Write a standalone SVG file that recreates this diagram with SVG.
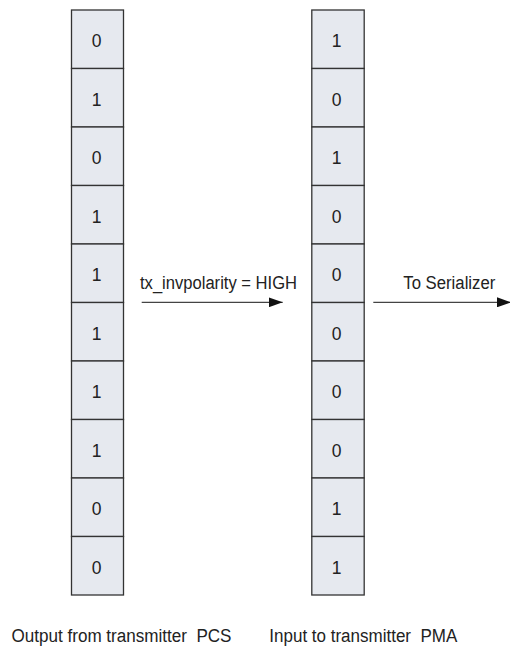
<svg xmlns="http://www.w3.org/2000/svg" width="510" height="646" viewBox="0 0 510 646">
<style>
.cell{fill:#e6e9ef;stroke:#333;stroke-width:1.3}
.t{font-family:"Liberation Sans",Arial,sans-serif;font-size:18px;fill:#222;white-space:pre}
.d{text-anchor:middle;font-size:17.5px}
.ln{stroke:#444;stroke-width:1.3;fill:none}
</style>
<defs>
<marker id="ah" markerWidth="14" markerHeight="10" refX="14" refY="5" orient="auto" markerUnits="userSpaceOnUse">
<path d="M0,0 L14,5 L0,10 Z" fill="#111"/>
</marker>
</defs>
<g id="left-column">
<rect class="cell" x="71.5" y="10" width="52" height="58.5"/>
<rect class="cell" x="71.5" y="68.5" width="52" height="58.5"/>
<rect class="cell" x="71.5" y="127" width="52" height="58.5"/>
<rect class="cell" x="71.5" y="185.5" width="52" height="58.5"/>
<rect class="cell" x="71.5" y="244" width="52" height="58.5"/>
<rect class="cell" x="71.5" y="302.5" width="52" height="58.5"/>
<rect class="cell" x="71.5" y="361" width="52" height="58.5"/>
<rect class="cell" x="71.5" y="419.5" width="52" height="58.5"/>
<rect class="cell" x="71.5" y="478" width="52" height="58.5"/>
<rect class="cell" x="71.5" y="536.5" width="52" height="58.5"/>
<text class="t d" x="96.5" y="47">0</text>
<text class="t d" x="96.5" y="105.5">1</text>
<text class="t d" x="96.5" y="164">0</text>
<text class="t d" x="96.5" y="222.5">1</text>
<text class="t d" x="96.5" y="281">1</text>
<text class="t d" x="96.5" y="339.5">1</text>
<text class="t d" x="96.5" y="398">1</text>
<text class="t d" x="96.5" y="456.5">1</text>
<text class="t d" x="96.5" y="515">0</text>
<text class="t d" x="96.5" y="573.5">0</text>
</g>
<g id="right-column">
<rect class="cell" x="311.8" y="10" width="52.4" height="58.5"/>
<rect class="cell" x="311.8" y="68.5" width="52.4" height="58.5"/>
<rect class="cell" x="311.8" y="127" width="52.4" height="58.5"/>
<rect class="cell" x="311.8" y="185.5" width="52.4" height="58.5"/>
<rect class="cell" x="311.8" y="244" width="52.4" height="58.5"/>
<rect class="cell" x="311.8" y="302.5" width="52.4" height="58.5"/>
<rect class="cell" x="311.8" y="361" width="52.4" height="58.5"/>
<rect class="cell" x="311.8" y="419.5" width="52.4" height="58.5"/>
<rect class="cell" x="311.8" y="478" width="52.4" height="58.5"/>
<rect class="cell" x="311.8" y="536.5" width="52.4" height="58.5"/>
<text class="t d" x="336.5" y="47">1</text>
<text class="t d" x="336.5" y="105.5">0</text>
<text class="t d" x="336.5" y="164">1</text>
<text class="t d" x="336.5" y="222.5">0</text>
<text class="t d" x="336.5" y="281">0</text>
<text class="t d" x="336.5" y="339.5">0</text>
<text class="t d" x="336.5" y="398">0</text>
<text class="t d" x="336.5" y="456.5">0</text>
<text class="t d" x="336.5" y="515">1</text>
<text class="t d" x="336.5" y="573.5">1</text>
</g>
<g id="connectors">
<line class="ln" x1="141.7" y1="302.3" x2="282.7" y2="302.3" marker-end="url(#ah)"/>
<line class="ln" x1="373.3" y1="302.3" x2="511" y2="302.3" marker-end="url(#ah)"/>
</g>
<g id="labels">
<text class="t" x="140" y="288.5" textLength="157" lengthAdjust="spacingAndGlyphs">tx_invpolarity = HIGH</text>
<text class="t" x="403.3" y="289" textLength="92" lengthAdjust="spacingAndGlyphs">To Serializer</text>
<text class="t" x="11.5" y="641.5" textLength="220" lengthAdjust="spacingAndGlyphs">Output from transmitter  PCS</text>
<text class="t" x="269.3" y="641.5" textLength="188" lengthAdjust="spacingAndGlyphs">Input to transmitter  PMA</text>
</g>
</svg>
